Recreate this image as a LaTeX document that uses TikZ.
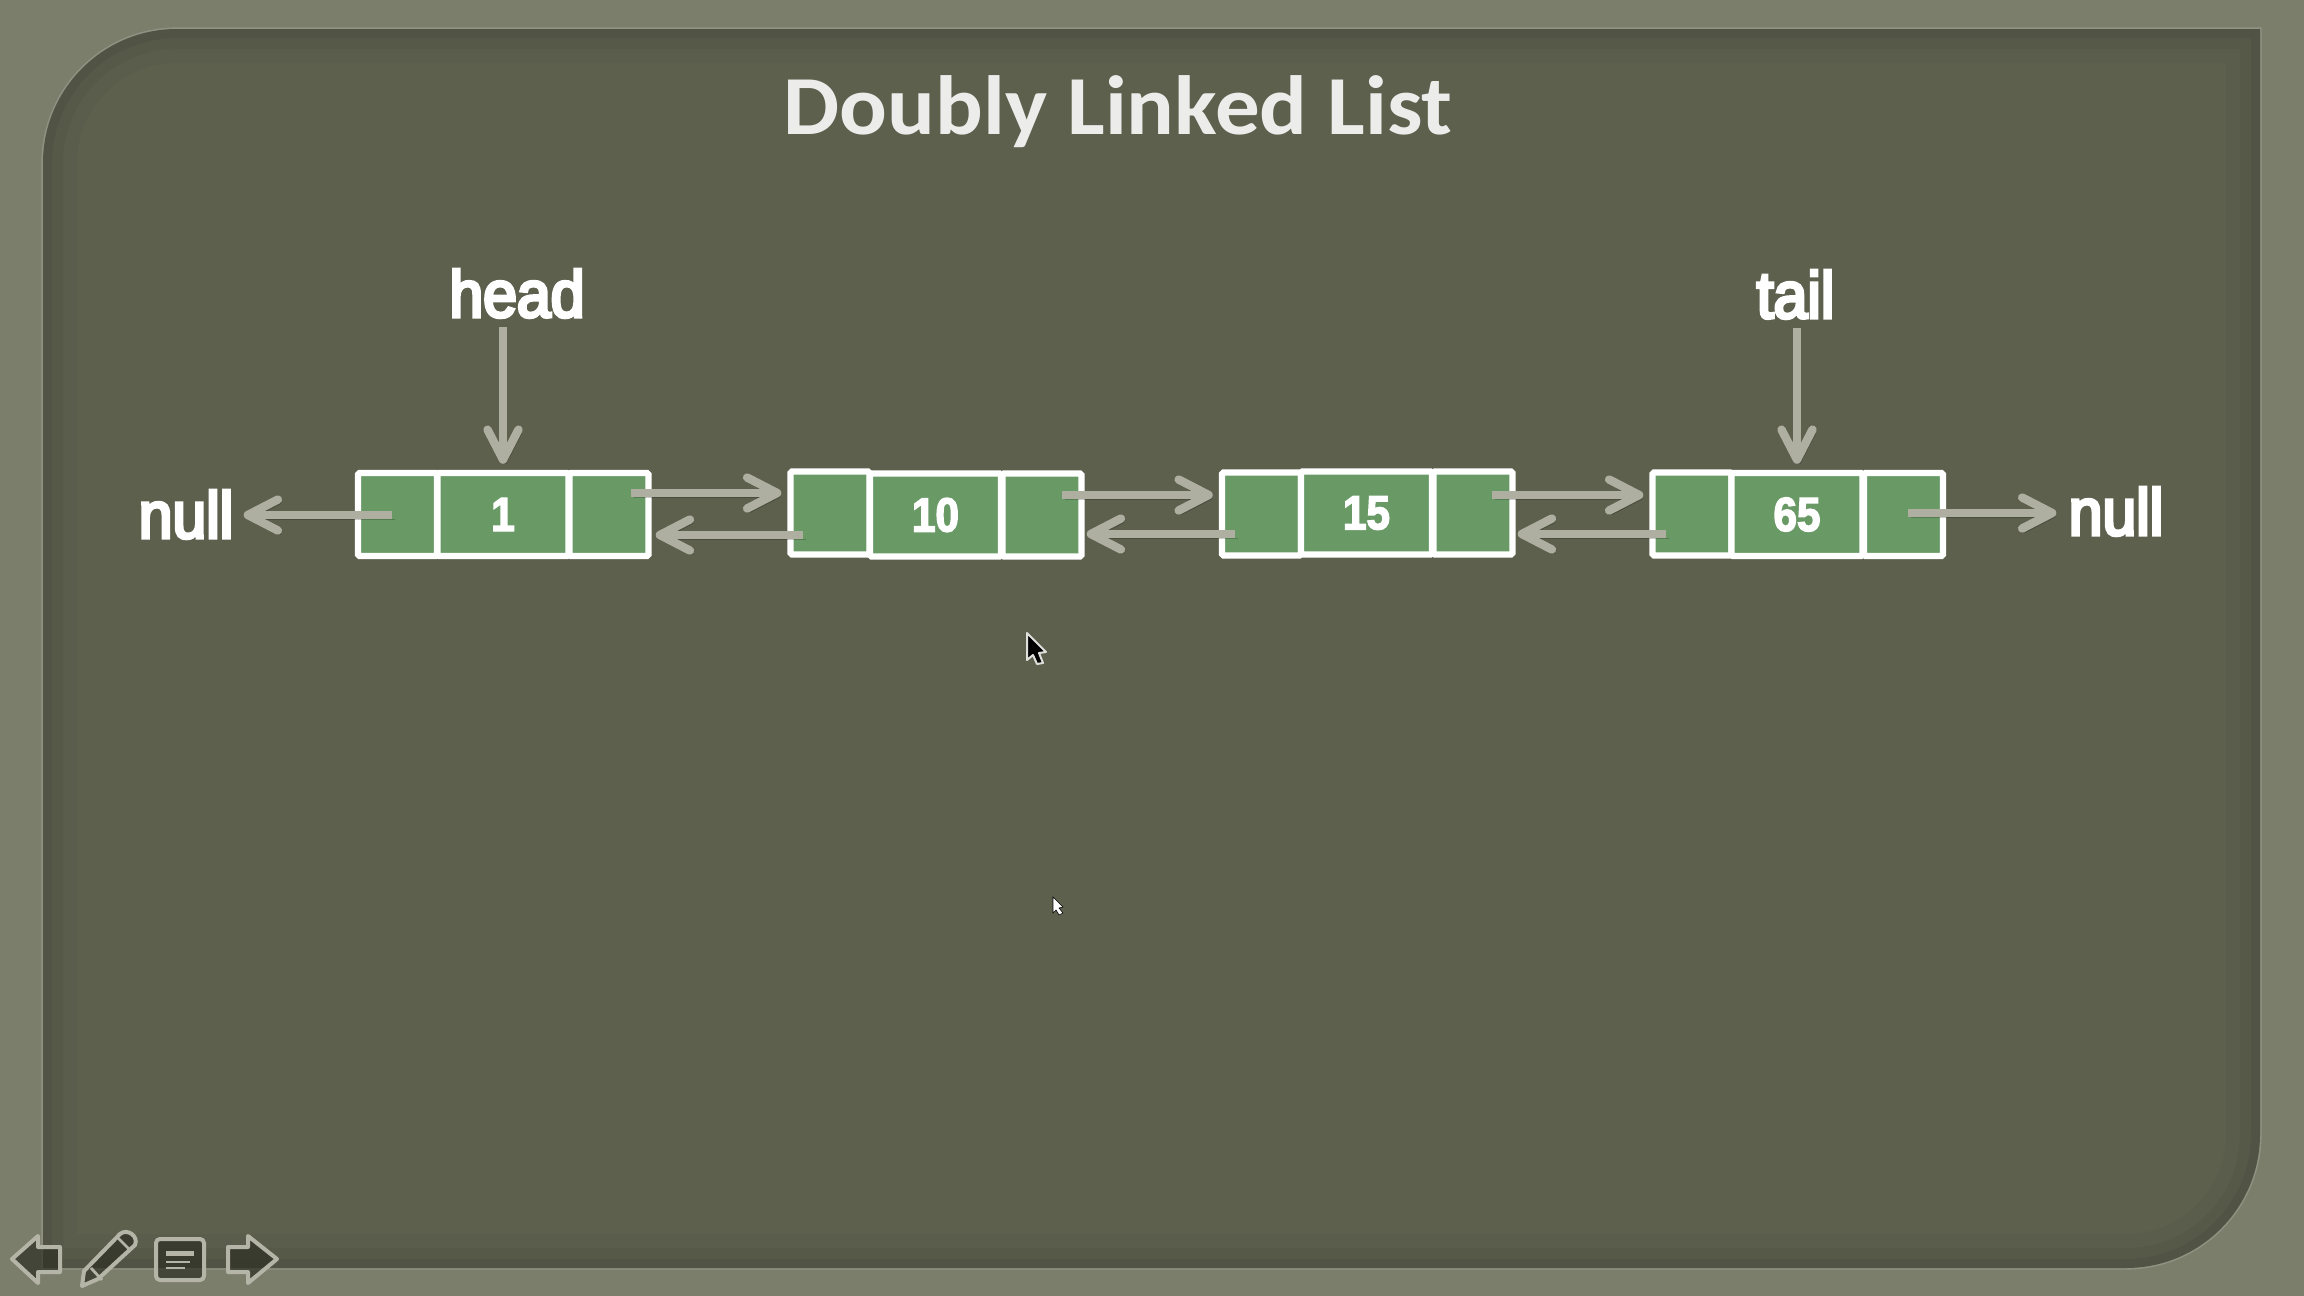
\documentclass[tikz,border=0pt]{standalone}
\usepackage{fontspec}
\usetikzlibrary{arrows.meta}
\newfontfamily\titlefont[FakeStretch=1.06]{Carlito}
\newfontfamily\labelfont[FakeStretch=0.92,FakeBold=5]{Liberation Sans}
\newfontfamily\numfont[FakeStretch=0.88,FakeBold=3]{Liberation Sans Bold}
\definecolor{framebg}{HTML}{7C7E6C}
\definecolor{panelbg}{HTML}{5D604D}
\definecolor{cellgreen}{HTML}{699A66}
\definecolor{ptrgray}{HTML}{AEAFA0}
\definecolor{iconline}{HTML}{B4B5A6}
\definecolor{icondark}{HTML}{2F3026}
\tikzset{
	sidecell/.style={draw=white,line width=3.2pt,fill=cellgreen,rounded corners=0.8pt,
		minimum width=39.5pt,minimum height=41.5pt,inner sep=0pt},
	datacell/.style={sidecell,minimum width=65.5pt,text=white,font=\numfont\fontsize{24}{24}\selectfont},
	listlabel/.style={text=white,inner sep=0pt,font=\labelfont\fontsize{33}{33}\selectfont},
	ptr/.style={draw=ptrgray,line width=4.2pt,-{Straight Barb[length=15pt,width=15.5pt,round]},
		shorten >=3pt,
		preaction={draw=black,draw opacity=0.2,transform canvas={xshift=1.5pt,yshift=-2pt}}},
	icon/.style={draw=iconline,line width=2pt,fill=icondark,fill opacity=0.72,line join=round},
	iconbar/.style={draw=iconline,line width=1.4pt},
}
\def\panelpath{(43,1268) [rounded corners=67pt] -- (43,29) [sharp corners] -- (2260,29)
	[rounded corners=67pt] -- (2260,1268) [sharp corners] -- cycle}
\begin{document}
\begin{tikzpicture}[x=0.5pt,y=-0.5pt]
	\useasboundingbox (0,0) rectangle (2304,1296);
	\fill[framebg] (0,0) rectangle (2304,1296);
	\draw[draw=framebg!85!white,line width=1.6pt] \panelpath;
	\fill[panelbg] \panelpath;
	\begin{scope}
		\clip \panelpath;
		\draw[draw=black,draw opacity=0.025,line width=34pt] \panelpath;
		\draw[draw=black,draw opacity=0.035,line width=20pt] \panelpath;
		\draw[draw=black,draw opacity=0.05,line width=9pt] \panelpath;
	\end{scope}

	\node[text=white!88!panelbg,inner sep=0pt,anchor=base,font=\titlefont\bfseries\fontsize{42}{42}\selectfont] (title) at (1118,134) {Doubly Linked List};

	\node[sidecell] (l1) at (397.5,514.5) {};
	\node[datacell] (d1) at (503,514.5) {1};
	\node[sidecell] (r1) at (609,514.5) {};
	\node[sidecell] (l2) at (830,513) {};
	\node[datacell] (d2) at (935.5,515) {10};
	\node[sidecell] (r2) at (1042,515) {};
	\node[sidecell] (l3) at (1261.5,514) {};
	\node[datacell] (d3) at (1366.5,513) {15};
	\node[sidecell] (r3) at (1473,513) {};
	\node[sidecell] (l4) at (1692,514) {};
	\node[datacell] (d4) at (1797,514.5) {65};
	\node[sidecell] (r4) at (1903.5,514.5) {};

	\node[listlabel,anchor=base] (head) at (517,317) {head};
	\node[listlabel,anchor=base] (tail) at (1795.5,318) {tail};
	\node[listlabel,anchor=base] (nullleft) at (186,538) {null};
	\node[listlabel,anchor=base] (nullright) at (2116,535) {null};

	\coordinate (p1l) at (392,515);
	\coordinate (p1r) at (631,493);
	\coordinate (p2l) at (803,535);
	\coordinate (p2r) at (1062,495);
	\coordinate (p3l) at (1235,534);
	\coordinate (p3r) at (1492,495);
	\coordinate (p4l) at (1666,534);
	\coordinate (p4r) at (1908,513);

	\draw[ptr,shorten <=4.5pt] (d1.north |- head.south) -- (d1.north);
	\draw[ptr,shorten <=4.5pt] (d4.north |- tail.south) -- (d4.north);
	\draw[ptr,shorten >=5pt] (p1l) -- (p1l -| nullleft.east);
	\draw[ptr] (p1r) -- (p1r -| l2.west);
	\draw[ptr,shorten >=2pt] (p2l) -- (p2l -| r1.east);
	\draw[ptr] (p2r) -- (p2r -| l3.west);
	\draw[ptr,shorten >=1pt] (p3l) -- (p3l -| r2.east);
	\draw[ptr] (p3r) -- (p3r -| l4.west);
	\draw[ptr,shorten >=1pt] (p4l) -- (p4l -| r3.east);
	\draw[ptr,shorten >=6pt] (p4r) -- (p4r -| nullright.west);

	\draw[icon] (12,1259)--(38,1236)--(38,1247)--(60,1247)--(60,1272)--(38,1272)--(38,1283)--cycle;
	\draw[icon] (277,1259)--(248,1236)--(248,1247)--(228,1247)--(228,1272)--(248,1272)--(248,1283)--cycle;
	\draw[icon] (82,1286)--(84,1271)--(120,1234) .. controls (127,1228) and (139,1236) .. (135,1245)--(98,1279)--cycle;
	\draw[iconbar] (91,1268)--(102,1280)
		(118,1238)--(130,1250);
	\draw[icon,rounded corners=2pt] (156,1239) rectangle (204,1280);
	\draw[iconbar,line width=2.5pt] (166,1253)--(194,1253);
	\draw[iconbar] (166,1262)--(190,1262)
		(166,1268)--(185,1268);

	\draw[fill=black,draw=white!80!panelbg,line width=1pt,line join=round]
		(1027,633)--(1027,660)--(1033,655)--(1037,664)--(1043,663)--(1039,653)--(1046,652)--cycle;
	\draw[fill=white,draw=black,line width=0.3pt]
		(1053,897)--(1053,913)--(1056,910)--(1059,915)--(1063,913)--(1059,908)--(1063,907)--cycle;
\end{tikzpicture}
\end{document}
